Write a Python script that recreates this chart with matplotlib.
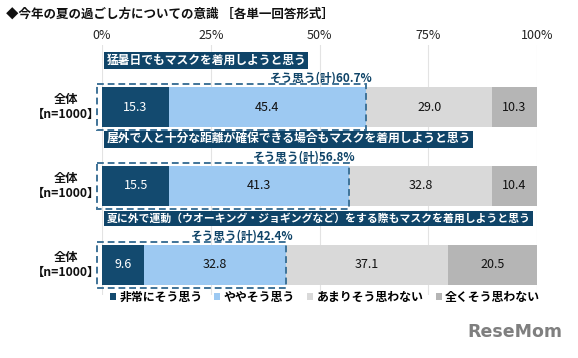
import matplotlib
matplotlib.use("Agg")
import matplotlib.pyplot as plt
from matplotlib.patches import Rectangle, Patch

plt.rcParams['font.family'] = ['Noto Sans CJK JP', 'DejaVu Sans']

title = "◆今年の夏の過ごし方についての意識 ［各単一回答形式］"
questions = [
    "猛暑日でもマスクを着用しようと思う",
    "屋外で人と十分な距離が確保できる場合もマスクを着用しようと思う",
    "夏に外で運動（ウオーキング・ジョギングなど）をする際もマスクを着用しようと思う",
]
row_label = "全体\n【n=1000】"
categories = ["非常にそう思う", "ややそう思う", "あまりそう思わない", "全くそう思わない"]
very = [15.3, 15.5, 9.6]
somewhat = [45.4, 41.3, 32.8]
notmuch = [29.0, 32.8, 37.1]
notatall = [10.3, 10.4, 20.5]
agree_total = [60.7, 56.8, 42.4]
xticks = [0, 25, 50, 75, 100]
xtick_labels = ["0%", "25%", "50%", "75%", "100%"]

colors = ["#134a6f", "#9dc9f2", "#d9d9d9", "#b5b5b5"]
text_colors = ["white", "#111111", "#111111", "#111111"]
series = [very, somewhat, notmuch, notatall]
header_sizes = [8.5, 8.5, 7.8]

fig = plt.figure(figsize=(5.78, 3.58), dpi=100)
ax = fig.add_axes([102/578, 1 - 295/358, 435/578, 250/358])

ypos = [0, 1, 2]
bar_h = 0.506
ax.set_xlim(0, 100)
ax.set_ylim(2.38, -0.785)

for x in xticks:
    ax.axvline(x, color="#e3e3e3", lw=0.8, zorder=0)

left = [0, 0, 0]
for s, c, tc in zip(series, colors, text_colors):
    ax.barh(ypos, s, left=left, height=bar_h, color=c, zorder=2)
    for y, v, l in zip(ypos, s, left):
        ax.text(l + v / 2, y, f"{v:.1f}", ha="center", va="center",
                fontsize=9, color=tc, zorder=4)
    left = [l + v for l, v in zip(left, s)]

for y, q, tot, fs in zip(ypos, questions, agree_total, header_sizes):
    ax.text(1.0, y - 0.59, q, ha="left", va="center", fontsize=fs,
            fontweight="bold", color="white", zorder=5,
            bbox=dict(boxstyle="square,pad=0.2", fc="#0f4468", ec="none"))
    ax.text(tot + 1.6, y - 0.37, f"そう思う(計){tot}%", ha="right", va="center",
            fontsize=8.4, fontweight="bold", color="#0f4468", zorder=5)
    ax.add_patch(Rectangle((-1.2, y - bar_h / 2 - 0.04), tot + 1.2, bar_h + 0.08,
                           fill=False, ec="#3f7398", lw=1.4, ls=(0, (3.5, 2)),
                           zorder=6, clip_on=False))
    ax.text(-8.3, y, row_label, ha="center", va="center", fontsize=8.8,
            fontweight="bold", color="#111111", linespacing=1.25)

ax.set_xticks(xticks)
ax.set_xticklabels(xtick_labels, fontsize=9, color="#222222")
ax.xaxis.tick_top()
ax.tick_params(axis="x", length=0, pad=2)
ax.set_yticks([])
for sp in ax.spines.values():
    sp.set_visible(False)

fig.text(6/578, 1 - 14/358, title, ha="left", va="center", fontsize=9.0,
         fontweight="bold", color="#111111")

handles = [Patch(facecolor=c, edgecolor="none", label=l) for c, l in zip(colors, categories)]
fig.legend(handles=handles, loc="center", bbox_to_anchor=(325/578, 1 - 297/358), ncol=4,
           frameon=False, prop={"weight": "bold", "size": 8.6},
           handlelength=0.5, handleheight=0.5, handletextpad=0.3, columnspacing=1.0)

fig.text(515/578, 1 - 332/358, "ReseMom", ha="center", va="center", fontsize=12.5,
         fontweight="bold", color="#7f7f7f", family="DejaVu Sans")

fig.savefig("out.png", dpi=100)
